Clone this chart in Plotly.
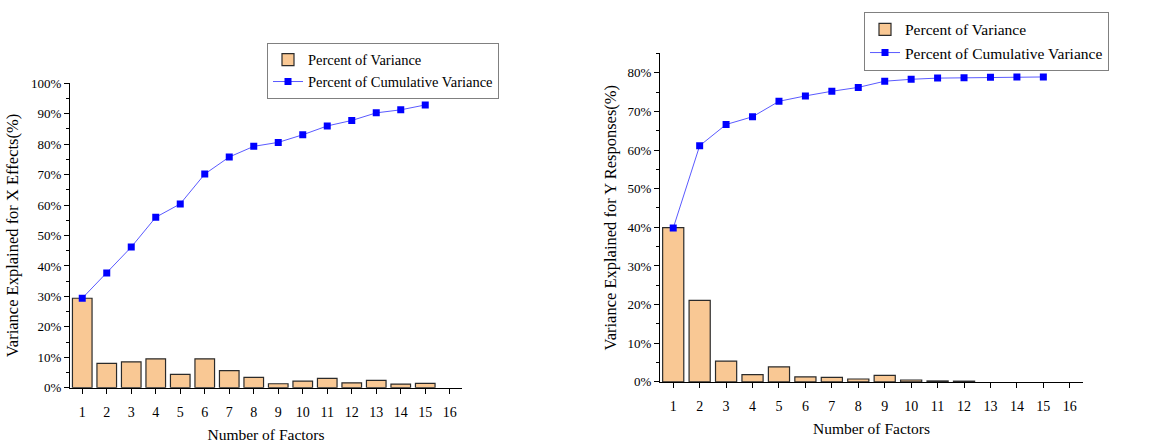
import plotly.graph_objects as go

# Factor numbers (1..16 on the axis, 15 factors carry values)
factors = list(range(1, 16))
x_ticks = list(range(1, 17))

# X effects: per-factor and cumulative percent of variance explained
x_var = [29.4, 8.0, 8.5, 9.5, 4.4, 9.5, 5.6, 3.4, 1.3, 2.2, 3.1, 1.6, 2.4, 1.2, 1.4]
x_cum = [29.4, 37.7, 46.2, 56.0, 60.4, 70.2, 75.8, 79.3, 80.6, 83.1, 86.0, 87.8, 90.3, 91.3, 92.9]

# Y responses: per-factor and cumulative percent of variance explained
# (the last factors contribute too little to show a bar)
y_var = [39.9, 21.1, 5.4, 1.9, 3.9, 1.3, 1.2, 0.75, 1.7, 0.5, 0.25, 0.2, None, None, None]
y_cum = [39.8, 61.1, 66.6, 68.6, 72.6, 74.0, 75.2, 76.2, 77.8, 78.3, 78.6, 78.7, 78.8, 78.9, 78.9]

FONT = "Liberation Serif"
BAR_FILL = "#F9C894"
BAR_EDGE = "#2b2b2b"
LINE_COLOR = "#5a5aff"
MARK_COLOR = "#0000FF"

W, H = 1170, 445

fig = go.Figure()

def add_pair(var, cum, xa, ya, legend):
    fig.add_trace(go.Bar(
        x=factors, y=var, width=0.8, name="Percent of Variance",
        marker=dict(color=BAR_FILL, line=dict(color=BAR_EDGE, width=1.2)),
        xaxis=xa, yaxis=ya, legend=legend,
    ))
    fig.add_trace(go.Scatter(
        x=factors, y=cum, mode="lines+markers", name="Percent of Cumulative Variance",
        line=dict(color=LINE_COLOR, width=1),
        marker=dict(symbol="square", size=7, color=MARK_COLOR),
        xaxis=xa, yaxis=ya, legend=legend,
    ))

add_pair(x_var, x_cum, "x", "y", "legend")
add_pair(y_var, y_cum, "x2", "y2", "legend2")

def px_x(p):
    return p / W

def px_y(p):
    return 1 - p / H

axis_common = dict(
    showline=True, linecolor="black", linewidth=1.2, mirror=False,
    ticks="outside", ticklen=5, tickwidth=1, tickcolor="black",
    showgrid=False, zeroline=False,
    tickfont=dict(family=FONT, size=13, color="black"),
    title_font=dict(family=FONT, size=16.5, color="black"),
)

xaxis_common = dict(
    axis_common, range=[0.5, 16.5], tickvals=x_ticks,
    tickfont=dict(family=FONT, size=14, color="black"),
    ticklabelstandoff=6,
    title_text="Number of Factors", title_standoff=10,
    title_font=dict(family=FONT, size=15.5, color="black"),
)

minor = dict(dtick=5, ticks="outside", ticklen=3, tickcolor="black", showgrid=False)

legend_common = dict(
    xanchor="left", yanchor="top",
    bordercolor="#808080", borderwidth=1, bgcolor="white",
    tracegroupgap=0,
)

fig.update_layout(
    width=W, height=H,
    margin=dict(l=0, r=0, t=0, b=0),
    paper_bgcolor="white", plot_bgcolor="white",
    font=dict(family=FONT, color="black"),
    showlegend=True,
    xaxis=dict(xaxis_common, domain=[px_x(70), px_x(462)], anchor="y"),
    yaxis=dict(axis_common, domain=[px_y(394), px_y(79)], anchor="x",
               range=[0, 100], dtick=10, ticksuffix="%", minor=minor,
               title_text="Variance Explained for X Effects(%)", title_standoff=8),
    xaxis2=dict(xaxis_common, domain=[px_x(660), px_x(1083)], anchor="y2"),
    yaxis2=dict(axis_common, domain=[px_y(388), px_y(48)], anchor="x2",
                range=[0, 85], dtick=10, ticksuffix="%", minor=minor,
                title_text="Variance Explained for Y Responses(%)", title_standoff=6),
    legend=dict(legend_common, x=px_x(267), y=px_y(37),
                font=dict(family=FONT, size=14.5, color="black")),
    legend2=dict(legend_common, x=px_x(864), y=px_y(5),
                 font=dict(family=FONT, size=15.5, color="black")),
)

fig.write_html("out.html")
